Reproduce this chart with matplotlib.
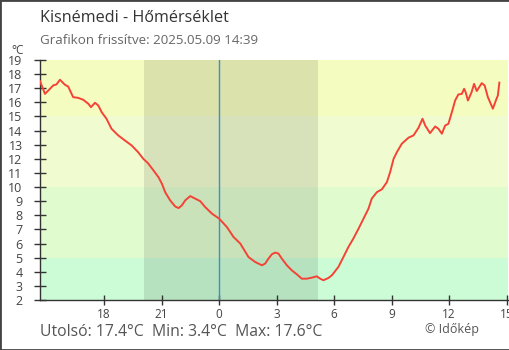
import matplotlib.pyplot as plt
from matplotlib.patches import Rectangle

plt.rcParams["font.family"] = ["Open Sans", "DejaVu Sans"]

# ==================================================
# DATA (hours relative to midnight, °C)
# ==================================================

hours = [
    -9.35, -9.09, -8.83, -8.66, -8.49, -8.31, -8.05, -7.88, -7.70, -7.62,
    -7.36, -7.09, -6.83, -6.69, -6.48, -6.31, -6.13, -5.88, -5.62, -5.27,
    -4.92, -4.57, -4.23, -3.96, -3.72, -3.43, -3.17, -2.99, -2.82, -2.56,
    -2.30, -2.12, -1.95, -1.77, -1.51, -1.25, -0.99, -0.73, -0.38, 0.00,
    0.40, 0.75, 1.10, 1.53, 1.88, 2.23, 2.40, 2.57, 2.75, 2.92,
    3.09, 3.27, 3.53, 3.79, 4.05, 4.31, 4.57, 4.83, 5.09, 5.27,
    5.44, 5.70, 5.88, 6.22, 6.48, 6.74, 7.00, 7.27, 7.53, 7.79,
    7.96, 8.23, 8.49, 8.75, 8.92, 9.10, 9.27, 9.53, 9.88, 10.14,
    10.40, 10.61, 10.75, 11.00, 11.27, 11.44, 11.62, 11.79, 11.96, 12.14,
    12.31, 12.48, 12.66, 12.78, 12.86, 12.98, 13.17, 13.30, 13.44, 13.70,
    13.85, 14.02, 14.28, 14.45, 14.54, 14.62,
]

temps = [
    17.5, 16.6, 16.96, 17.2, 17.27, 17.6, 17.25, 17.12, 16.6, 16.37,
    16.32, 16.18, 15.9, 15.66, 15.97, 15.78, 15.3, 14.84, 14.13, 13.66,
    13.3, 12.95, 12.47, 12.0, 11.7, 11.18, 10.7, 10.24, 9.64, 9.06,
    8.63, 8.51, 8.7, 9.06, 9.36, 9.18, 9.0, 8.58, 8.12, 7.76,
    7.17, 6.46, 6.0, 5.04, 4.69, 4.46, 4.58, 4.93, 5.24, 5.36,
    5.29, 4.93, 4.46, 4.1, 3.82, 3.51, 3.51, 3.58, 3.68, 3.51,
    3.4, 3.56, 3.75, 4.34, 5.04, 5.75, 6.35, 7.05, 7.76, 8.47,
    9.18, 9.64, 9.84, 10.35, 11.06, 12.0, 12.47, 13.07, 13.5, 13.66,
    14.2, 14.84, 14.36, 13.82, 14.29, 14.13, 13.78, 14.36, 14.48, 15.3,
    16.13, 16.56, 16.6, 16.96, 16.72, 16.13, 16.72, 17.31, 16.8, 17.36,
    17.2, 16.37, 15.55, 16.18, 16.49, 17.4,
]

x_ticks = [-6, -3, 0, 3, 6, 9, 12, 15]
x_tick_labels = ["18", "21", "0", "3", "6", "9", "12", "15"]

# colour bands: (low, high, colour)
band_limits = [2, 5, 10, 15, 19]
band_colors = ["#ccfcd6", "#e0fccf", "#f0fcd0", "#f4fcc0"]

sunset = -3.91
sunrise = 5.16

# ==================================================
# FIGURE
# ==================================================

fig = plt.figure(figsize=(5.1, 3.5), dpi=100)
ax = fig.add_axes([40 / 510, 50 / 350, 468 / 510, 240 / 350])

ax.set_xlim(-9.35, 15.07)
ax.set_ylim(2, 19)

for lo, hi, col in zip(band_limits[:-1], band_limits[1:], band_colors):
    ax.axhspan(lo, hi, color=col, lw=0, zorder=0)

ax.axvspan(sunset, sunrise, color="black", alpha=0.1, lw=0, zorder=1)
ax.axvline(0, color="#3a8fcf", lw=1, zorder=2)

ax.plot(hours, temps, color="#f44336", lw=1.4, zorder=3)

# axes
for side in ["top", "right"]:
    ax.spines[side].set_visible(False)
for side in ["left", "bottom"]:
    ax.spines[side].set_color("#333333")
    ax.spines[side].set_linewidth(1)

ax.set_yticks(range(2, 20))
ax.set_xticks(x_ticks)
ax.set_xticklabels(x_tick_labels)

ax.tick_params(axis="y", direction="inout", length=9, width=1,
               color="#333333", labelcolor="#444444", labelsize=9, pad=8)
ax.tick_params(axis="x", direction="inout", length=7, width=1,
               color="#333333", labelcolor="#444444", labelsize=8.5, pad=2)

# texts
fig.text(40 / 510, 1 - 18 / 350, "Kisnémedi - Hőmérséklet",
         fontsize=11.6, color="#333333", va="center")
fig.text(40 / 510, 1 - 40 / 350, "Grafikon frissítve: 2025.05.09 14:39",
         fontsize=9.6, color="#666666", va="center")
fig.text(11 / 510, 1 - 50 / 350, "°C", fontsize=8.5, color="#444444",
         va="center")
fig.text(40 / 510, 1 - 332 / 350,
         "Utolsó: 17.4°C  Min: 3.4°C  Max: 17.6°C",
         fontsize=11.3, color="#555555", va="center")
fig.text(425 / 510, 1 - 330 / 350, "© Időkép",
         fontsize=9, color="#555555", va="center")

fig.patches.append(Rectangle((0, 0), 1, 1, transform=fig.transFigure,
                             fill=False, edgecolor="#444444", lw=2))

fig.savefig("out.png", dpi=100)
